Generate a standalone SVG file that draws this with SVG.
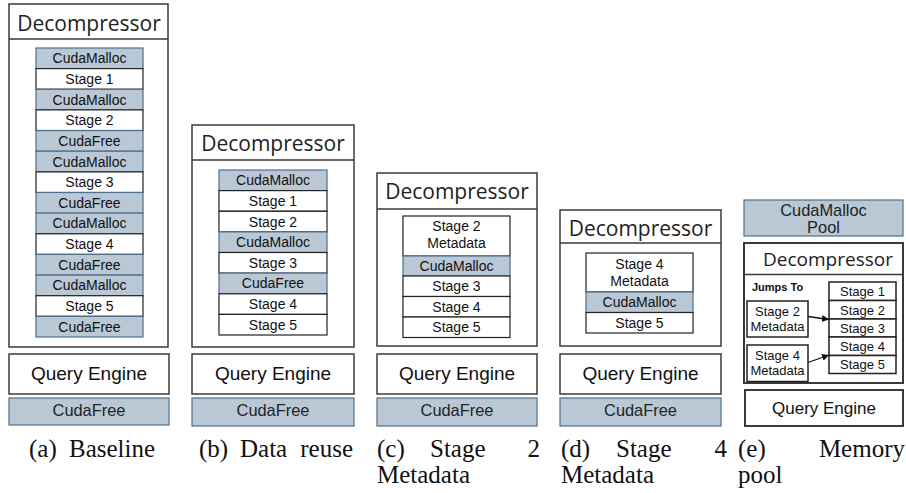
<svg xmlns="http://www.w3.org/2000/svg" width="906" height="493" viewBox="0 0 906 493">
<defs>
<style>
.box{fill:#fff;stroke:#3a3a3a;stroke-width:1.5}
.hdr{fill:none;stroke:#3a3a3a;stroke-width:1.5}
.w{fill:#fff;stroke:#222;stroke-width:1.2}
.b{fill:#b9c8d4;stroke:#4f6f8a;stroke-width:1.2}
.dec{font-family:"Open Sans","DejaVu Sans",sans-serif;font-size:21px;fill:#222;text-anchor:middle}
.c{font-family:"Liberation Sans",Arial,sans-serif;font-size:14px;fill:#111;text-anchor:middle}
.c13{font-family:"Liberation Sans",Arial,sans-serif;font-size:13px;fill:#111;text-anchor:middle}
.qe{font-family:"Liberation Sans",Arial,sans-serif;font-size:19px;fill:#111;text-anchor:middle}
.cf{font-family:"Liberation Sans",Arial,sans-serif;font-size:16.4px;fill:#222;text-anchor:middle}
.cap{font-family:"Liberation Serif","Times New Roman",serif;font-size:25px;fill:#111}
.arr{stroke:#111;stroke-width:1.3;fill:none;marker-end:url(#ah)}
</style>
<marker id="ah" viewBox="0 0 10 10" refX="10" refY="5" markerWidth="7" markerHeight="7" orient="auto" markerUnits="userSpaceOnUse">
<path d="M0,0 L10,5 L0,10 z" fill="#111"/>
</marker>
</defs>
<rect width="906" height="493" fill="#fff"/>

<!-- (a) Baseline -->
<g id="a-decompressor">
<rect class="box" x="9" y="4" width="159" height="343"/>
<line class="hdr" x1="9" y1="39" x2="168" y2="39"/>
<text class="dec" x="89" y="31">Decompressor</text>
<rect class="b" x="36" y="48" width="107" height="20.6"/><text class="c" x="89.5" y="63.3">CudaMalloc</text>
<rect class="w" x="36" y="68.6" width="107" height="20.6"/><text class="c" x="89.5" y="84">Stage 1</text>
<rect class="b" x="36" y="89.3" width="107" height="20.6"/><text class="c" x="89.5" y="104.6">CudaMalloc</text>
<rect class="w" x="36" y="109.9" width="107" height="20.6"/><text class="c" x="89.5" y="125.2">Stage 2</text>
<rect class="b" x="36" y="130.6" width="107" height="20.6"/><text class="c" x="89.5" y="145.9">CudaFree</text>
<rect class="b" x="36" y="151.2" width="107" height="20.6"/><text class="c" x="89.5" y="166.5">CudaMalloc</text>
<rect class="w" x="36" y="171.9" width="107" height="20.6"/><text class="c" x="89.5" y="187.2">Stage 3</text>
<rect class="b" x="36" y="192.5" width="107" height="20.6"/><text class="c" x="89.5" y="207.8">CudaFree</text>
<rect class="b" x="36" y="213.1" width="107" height="20.6"/><text class="c" x="89.5" y="228.4">CudaMalloc</text>
<rect class="w" x="36" y="233.8" width="107" height="20.6"/><text class="c" x="89.5" y="249.1">Stage 4</text>
<rect class="b" x="36" y="254.4" width="107" height="20.6"/><text class="c" x="89.5" y="269.7">CudaFree</text>
<rect class="b" x="36" y="275.1" width="107" height="20.6"/><text class="c" x="89.5" y="290.4">CudaMalloc</text>
<rect class="w" x="36" y="295.7" width="107" height="20.6"/><text class="c" x="89.5" y="311">Stage 5</text>
<rect class="b" x="36" y="316.4" width="107" height="20.6"/><text class="c" x="89.5" y="331.7">CudaFree</text>
</g>
<g id="a-query-engine">
<rect class="box" x="9" y="354" width="160" height="40"/>
<text class="qe" x="89" y="380">Query Engine</text>
</g>
<g id="a-cudafree">
<rect class="b" x="9" y="398" width="160" height="27"/>
<text class="cf" x="89" y="416">CudaFree</text>
</g>

<!-- (b) Data reuse -->
<g id="b-decompressor">
<rect class="box" x="192" y="125" width="162" height="222"/>
<line class="hdr" x1="192" y1="160" x2="354" y2="160"/>
<text class="dec" x="273" y="151">Decompressor</text>
<rect class="b" x="219" y="170" width="108" height="20.6"/><text class="c" x="273" y="185.3">CudaMalloc</text>
<rect class="w" x="219" y="190.6" width="108" height="20.6"/><text class="c" x="273" y="205.9">Stage 1</text>
<rect class="w" x="219" y="211.3" width="108" height="20.6"/><text class="c" x="273" y="226.6">Stage 2</text>
<rect class="b" x="219" y="231.9" width="108" height="20.6"/><text class="c" x="273" y="247.2">CudaMalloc</text>
<rect class="w" x="219" y="252.5" width="108" height="20.6"/><text class="c" x="273" y="267.8">Stage 3</text>
<rect class="b" x="219" y="273.1" width="108" height="20.6"/><text class="c" x="273" y="288.4">CudaFree</text>
<rect class="w" x="219" y="293.8" width="108" height="20.6"/><text class="c" x="273" y="309.1">Stage 4</text>
<rect class="w" x="219" y="314.4" width="108" height="20.6"/><text class="c" x="273" y="329.7">Stage 5</text>
</g>
<g id="b-query-engine">
<rect class="box" x="192" y="354" width="162" height="40"/>
<text class="qe" x="273" y="380">Query Engine</text>
</g>
<g id="b-cudafree">
<rect class="b" x="192" y="398" width="162" height="28"/>
<text class="cf" x="273" y="416">CudaFree</text>
</g>

<!-- (c) Stage 2 Metadata -->
<g id="c-decompressor">
<rect class="box" x="377" y="173" width="160" height="173"/>
<line class="hdr" x1="377" y1="209" x2="537" y2="209"/>
<text class="dec" x="457" y="199">Decompressor</text>
<rect class="w" x="403" y="216" width="107" height="40"/><text class="c" x="456.5" y="231">Stage 2</text><text class="c" x="456.5" y="248">Metadata</text>
<rect class="b" x="403" y="256" width="107" height="20"/><text class="c" x="456.5" y="271">CudaMalloc</text>
<rect class="w" x="403" y="276" width="107" height="20.5"/><text class="c" x="456.5" y="291.3">Stage 3</text>
<rect class="w" x="403" y="296.5" width="107" height="20.5"/><text class="c" x="456.5" y="311.8">Stage 4</text>
<rect class="w" x="403" y="317" width="107" height="20.5"/><text class="c" x="456.5" y="332.3">Stage 5</text>
</g>
<g id="c-query-engine">
<rect class="box" x="377" y="354" width="160" height="40"/>
<text class="qe" x="457" y="380">Query Engine</text>
</g>
<g id="c-cudafree">
<rect class="b" x="377" y="398" width="160" height="28"/>
<text class="cf" x="457" y="416">CudaFree</text>
</g>

<!-- (d) Stage 4 Metadata -->
<g id="d-decompressor">
<rect class="box" x="560" y="210" width="161" height="136"/>
<line class="hdr" x1="560" y1="243" x2="721" y2="243"/>
<text class="dec" x="640.5" y="236">Decompressor</text>
<rect class="w" x="586" y="253" width="107" height="39"/><text class="c" x="639.5" y="269">Stage 4</text><text class="c" x="639.5" y="286">Metadata</text>
<rect class="b" x="586" y="292" width="107" height="20.5"/><text class="c" x="639.5" y="307.3">CudaMalloc</text>
<rect class="w" x="586" y="312.5" width="107" height="20.5"/><text class="c" x="639.5" y="327.8">Stage 5</text>
</g>
<g id="d-query-engine">
<rect class="box" x="560" y="354" width="161" height="40"/>
<text class="qe" x="640.5" y="380">Query Engine</text>
</g>
<g id="d-cudafree">
<rect class="b" x="560" y="398" width="161" height="28"/>
<text class="cf" x="640.5" y="416">CudaFree</text>
</g>

<!-- (e) Memory pool -->
<g id="e-pool">
<rect class="b" x="744" y="200" width="159" height="36"/>
<text class="cf" x="823.5" y="216">CudaMalloc</text>
<text class="cf" x="823.5" y="233">Pool</text>
</g>
<g id="e-decompressor">
<rect class="box" x="744" y="243" width="159" height="140" style="stroke-width:2"/>
<line class="hdr" x1="744" y1="274.5" x2="903" y2="274.5"/>
<text class="dec" x="828" y="266" style="font-size:19px">Decompressor</text>
<text x="752" y="291" style="font-family:'Liberation Sans',Arial,sans-serif;font-size:11px;font-weight:bold;fill:#111">Jumps To</text>
</g>
<g id="e-stage2-metadata">
<rect class="w" x="747" y="301" width="61" height="36" style="stroke-width:1.5"/>
<text class="c13" x="777.5" y="316">Stage 2</text><text class="c13" x="777.5" y="331">Metadata</text>
</g>
<g id="e-stage4-metadata">
<rect class="w" x="747" y="345" width="61" height="36.5" style="stroke-width:1.5"/>
<text class="c13" x="777.5" y="360">Stage 4</text><text class="c13" x="777.5" y="375">Metadata</text>
</g>
<g id="e-stages">
<rect class="w" x="829" y="282" width="67" height="18.5" style="stroke-width:1.5"/><text class="c13" x="862.5" y="296">Stage 1</text>
<rect class="w" x="829" y="300.5" width="67" height="18.5" style="stroke-width:1.5"/><text class="c13" x="862.5" y="314.5">Stage 2</text>
<rect class="w" x="829" y="319" width="67" height="18" style="stroke-width:1.5"/><text class="c13" x="862.5" y="332.5">Stage 3</text>
<rect class="w" x="829" y="337" width="67" height="18.5" style="stroke-width:1.5"/><text class="c13" x="862.5" y="350.5">Stage 4</text>
<rect class="w" x="829" y="355.5" width="67" height="18" style="stroke-width:1.5"/><text class="c13" x="862.5" y="369">Stage 5</text>
</g>
<g id="e-query-engine">
<rect class="box" x="745" y="390" width="158" height="36" style="stroke-width:2"/>
<text class="qe" x="824" y="414" style="font-size:17px">Query Engine</text>
</g>

<g id="connectors">
<line class="arr" x1="808" y1="316.5" x2="829" y2="319.5"/>
<line class="arr" x1="808" y1="362.5" x2="829" y2="355"/>
</g>

<!-- captions -->
<g id="captions">
<text class="cap" x="29" y="457">(a)</text><text class="cap" x="69" y="457">Baseline</text>
<text class="cap" x="199" y="457">(b)</text><text class="cap" x="240" y="457">Data</text><text class="cap" x="353" y="457" text-anchor="end">reuse</text>
<text class="cap" x="377" y="457">(c)</text><text class="cap" x="430" y="457">Stage</text><text class="cap" x="540" y="457" text-anchor="end">2</text>
<text class="cap" x="377" y="483">Metadata</text>
<text class="cap" x="561" y="457">(d)</text><text class="cap" x="616" y="457">Stage</text><text class="cap" x="727" y="457" text-anchor="end">4</text>
<text class="cap" x="561" y="483">Metadata</text>
<text class="cap" x="738" y="457">(e)</text><text class="cap" x="905" y="457" text-anchor="end">Memory</text>
<text class="cap" x="738" y="483">pool</text>
</g>
</svg>
